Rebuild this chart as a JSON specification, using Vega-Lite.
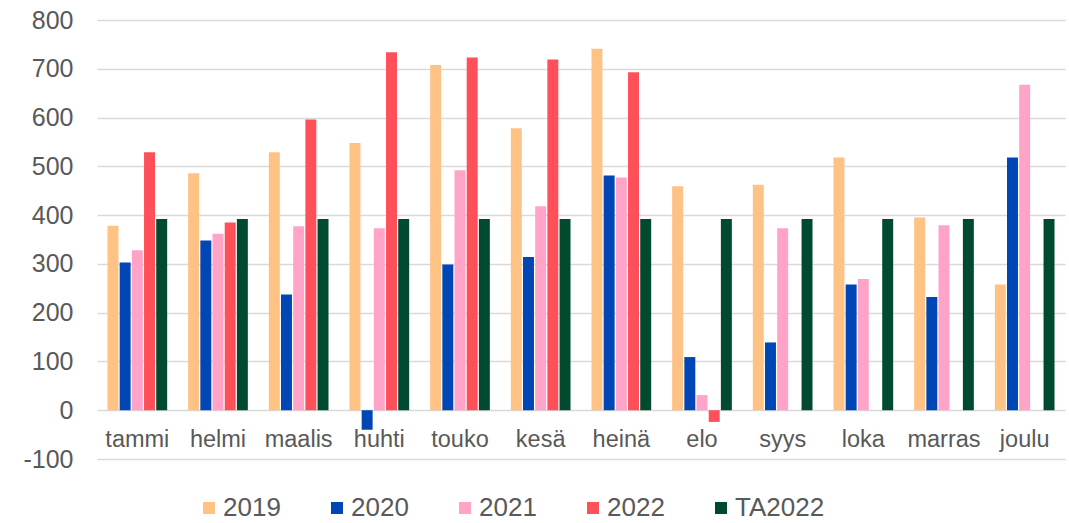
{
  "$schema": "https://vega.github.io/schema/vega-lite/v6.json",
  "autosize": "none",
  "width": 968,
  "height": 439,
  "padding": {"left": 97, "top": 20, "right": 4, "bottom": 64},
  "background": "white",
  "data": {"values": [
    {"kk": "tammi", "sarja": "2019", "arvo": 378},
    {"kk": "tammi", "sarja": "2020", "arvo": 303},
    {"kk": "tammi", "sarja": "2021", "arvo": 328},
    {"kk": "tammi", "sarja": "2022", "arvo": 529},
    {"kk": "tammi", "sarja": "TA2022", "arvo": 392},
    {"kk": "helmi", "sarja": "2019", "arvo": 486},
    {"kk": "helmi", "sarja": "2020", "arvo": 348},
    {"kk": "helmi", "sarja": "2021", "arvo": 362},
    {"kk": "helmi", "sarja": "2022", "arvo": 385},
    {"kk": "helmi", "sarja": "TA2022", "arvo": 392},
    {"kk": "maalis", "sarja": "2019", "arvo": 529},
    {"kk": "maalis", "sarja": "2020", "arvo": 237},
    {"kk": "maalis", "sarja": "2021", "arvo": 377},
    {"kk": "maalis", "sarja": "2022", "arvo": 596},
    {"kk": "maalis", "sarja": "TA2022", "arvo": 392},
    {"kk": "huhti", "sarja": "2019", "arvo": 548},
    {"kk": "huhti", "sarja": "2020", "arvo": -40},
    {"kk": "huhti", "sarja": "2021", "arvo": 373},
    {"kk": "huhti", "sarja": "2022", "arvo": 734},
    {"kk": "huhti", "sarja": "TA2022", "arvo": 392},
    {"kk": "touko", "sarja": "2019", "arvo": 708},
    {"kk": "touko", "sarja": "2020", "arvo": 299},
    {"kk": "touko", "sarja": "2021", "arvo": 492},
    {"kk": "touko", "sarja": "2022", "arvo": 723},
    {"kk": "touko", "sarja": "TA2022", "arvo": 392},
    {"kk": "kesä", "sarja": "2019", "arvo": 578},
    {"kk": "kesä", "sarja": "2020", "arvo": 314},
    {"kk": "kesä", "sarja": "2021", "arvo": 418},
    {"kk": "kesä", "sarja": "2022", "arvo": 719},
    {"kk": "kesä", "sarja": "TA2022", "arvo": 392},
    {"kk": "heinä", "sarja": "2019", "arvo": 741},
    {"kk": "heinä", "sarja": "2020", "arvo": 481},
    {"kk": "heinä", "sarja": "2021", "arvo": 477},
    {"kk": "heinä", "sarja": "2022", "arvo": 693},
    {"kk": "heinä", "sarja": "TA2022", "arvo": 392},
    {"kk": "elo", "sarja": "2019", "arvo": 459},
    {"kk": "elo", "sarja": "2020", "arvo": 109},
    {"kk": "elo", "sarja": "2021", "arvo": 31},
    {"kk": "elo", "sarja": "2022", "arvo": -24},
    {"kk": "elo", "sarja": "TA2022", "arvo": 392},
    {"kk": "syys", "sarja": "2019", "arvo": 462},
    {"kk": "syys", "sarja": "2020", "arvo": 139},
    {"kk": "syys", "sarja": "2021", "arvo": 373},
    {"kk": "syys", "sarja": "TA2022", "arvo": 392},
    {"kk": "loka", "sarja": "2019", "arvo": 518},
    {"kk": "loka", "sarja": "2020", "arvo": 258},
    {"kk": "loka", "sarja": "2021", "arvo": 269},
    {"kk": "loka", "sarja": "TA2022", "arvo": 392},
    {"kk": "marras", "sarja": "2019", "arvo": 395},
    {"kk": "marras", "sarja": "2020", "arvo": 232},
    {"kk": "marras", "sarja": "2021", "arvo": 379},
    {"kk": "marras", "sarja": "TA2022", "arvo": 392},
    {"kk": "joulu", "sarja": "2019", "arvo": 258},
    {"kk": "joulu", "sarja": "2020", "arvo": 518},
    {"kk": "joulu", "sarja": "2021", "arvo": 667},
    {"kk": "joulu", "sarja": "TA2022", "arvo": 392}
  ]},
  "mark": {"type": "bar"},
  "encoding": {
    "x": {
      "field": "kk", "type": "nominal",
      "sort": ["tammi","helmi","maalis","huhti","touko","kesä","heinä","elo","syys","loka","marras","joulu"],
      "scale": {"paddingInner": 0.26, "paddingOuter": 0.13},
      "axis": {"title": null, "labelAngle": 0, "domain": false, "ticks": false, "offset": -49, "labelPadding": 17, "labelFontSize": 23.5, "labelColor": "#595959", "labelFont": "Liberation Sans", "grid": false}
    },
    "xOffset": {
      "field": "sarja", "type": "nominal",
      "scale": {"domain": ["2019","2020","2021","2022","TA2022"], "paddingInner": 0.1}
    },
    "y": {
      "field": "arvo", "type": "quantitative",
      "scale": {"domain": [-100, 800], "nice": false, "zero": false},
      "axis": {"title": null, "values": [-100,0,100,200,300,400,500,600,700,800], "labelExpr": "'' + datum.value", "domain": false, "ticks": false, "labelPadding": 24, "labelFontSize": 25, "labelColor": "#595959", "labelFont": "Liberation Sans", "gridColor": "#d9d9d9", "gridWidth": 1.5}
    },
    "color": {
      "field": "sarja", "type": "nominal",
      "scale": {"domain": ["2019","2020","2021","2022","TA2022"], "range": ["#FFC285","#0047B5","#FFA3C8","#FF505A","#004B30"]},
      "legend": {"title": null, "orient": "none", "direction": "horizontal", "legendX": 99, "legendY": 475, "symbolType": "square", "symbolSize": 144, "labelFontSize": 26, "labelColor": "#595959", "labelFont": "Liberation Sans", "labelOffset": 1, "columnPadding": 43, "symbolStrokeWidth": 0}
    }
  },
  "config": {"view": {"stroke": null}}
}
